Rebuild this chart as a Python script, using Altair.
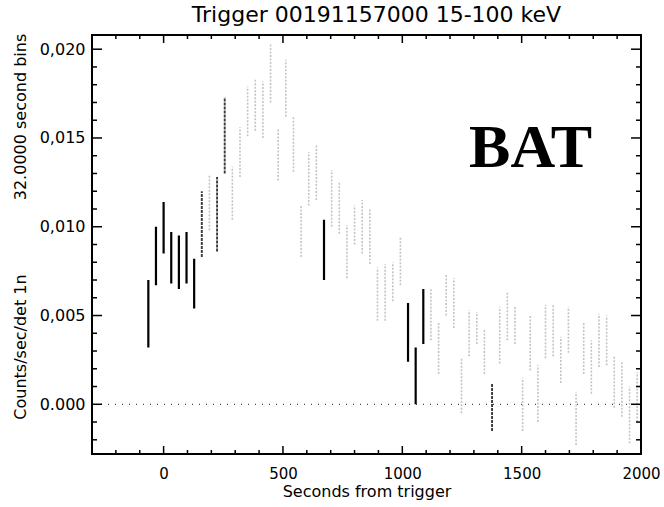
import altair as alt
import pandas as pd

# 32 s bin centres (seconds from trigger)
time_s = [-64, -32, 0, 32, 64, 96, 128, 160, 192, 224, 256, 288, 320, 352, 384, 416,
          448, 480, 512, 544, 576, 608, 640, 672, 704, 736, 768, 800, 832, 864, 896,
          928, 960, 992, 1024, 1056, 1088, 1120, 1152, 1184, 1216, 1248, 1280, 1312,
          1344, 1376, 1408, 1440, 1472, 1504, 1536, 1568, 1600, 1632, 1664, 1696, 1728,
          1760, 1792, 1824, 1856, 1888, 1920, 1952, 1984]
rate_hi = [0.0070, 0.0100, 0.0114, 0.0097, 0.0095, 0.0097, 0.0082, 0.0120, 0.0129, 0.0128,
           0.0173, 0.0134, 0.0156, 0.0179, 0.0183, 0.0182, 0.0203, 0.0155, 0.0194, 0.0162,
           0.0112, 0.0142, 0.0146, 0.0104, 0.0132, 0.0125, 0.0101, 0.0112, 0.0115, 0.0110,
           0.0077, 0.0079, 0.0080, 0.0094, 0.0057, 0.0032, 0.0065, 0.0065, 0.0046, 0.0073,
           0.0071, 0.0026, 0.0053, 0.0052, 0.0042, 0.0012, 0.0055, 0.0063, 0.0055, 0.0015,
           0.0050, 0.0022, 0.0056, 0.0056, 0.0038, 0.0055, 0.0007, 0.0046, 0.0036, 0.0051,
           0.0050, 0.0027, 0.0024, 0.0010, 0.0018]
rate_lo = [0.0032, 0.0067, 0.0085, 0.0068, 0.0065, 0.0068, 0.0054, 0.0083, 0.0098, 0.0086,
           0.0130, 0.0104, 0.0128, 0.0151, 0.0154, 0.0150, 0.0170, 0.0126, 0.0162, 0.0131,
           0.0083, 0.0112, 0.0115, 0.0070, 0.0100, 0.0096, 0.0071, 0.0090, 0.0085, 0.0079,
           0.0047, 0.0047, 0.0058, 0.0067, 0.0024, 0.0000, 0.0034, 0.0036, 0.0017, 0.0050,
           0.0043, -0.0005, 0.0027, 0.0034, 0.0017, -0.0015, 0.0023, 0.0036, 0.0034, -0.0015,
           0.0019, -0.0010, 0.0026, 0.0027, 0.0012, 0.0029, -0.0023, 0.0017, 0.0006, 0.0021,
           0.0022, -0.0002, -0.0007, -0.0022, -0.0010]
# print quality of each bar in the scanned plot
tone = (["solid"] * 7 + ["medium"] + ["faint"] + ["medium"] * 2 + ["faint"] * 12 +
        ["solid"] + ["faint"] * 10 + ["solid"] * 3 + ["faint"] * 8 + ["medium"] +
        ["faint"] * 19)

x_major = [0, 500, 1000, 1500]
x_minor = [v for v in range(-200, 2000, 100) if v % 500 != 0]
y_major = [0.0, 0.005, 0.010, 0.015, 0.020]
y_minor = [round(-0.002 + 0.001 * i, 3) for i in range(23) if (i - 2) % 5 != 0]

W, H = 549, 419
FONT = "DejaVu Sans"

df = pd.DataFrame({"t": time_s, "hi": rate_hi, "lo": rate_lo, "tone": tone})

xscale = alt.Scale(domain=[-300, 2000], nice=False, zero=False)
yscale = alt.Scale(domain=[-0.0028, 0.0208], nice=False, zero=False)

xax = alt.Axis(values=[0, 500, 1000, 1500, 2000], format="d", ticks=False, domain=False,
               grid=False, labelFont=FONT, labelFontSize=15, labelColor="black",
               labelPadding=12, labelFlush=False, labelOverlap=False,
               title="Seconds from trigger", titleFont=FONT,
               titleFontSize=16, titleFontWeight="normal", titleColor="black",
               titlePadding=2)
yax = alt.Axis(values=y_major, ticks=False, domain=False, grid=False,
               labelExpr="datum.value == 0 ? '0.000' : replace(format(datum.value, '.3f'), '.', ',')",
               labelFont=FONT, labelFontSize=16, labelColor="black", labelPadding=7,
               labelFlush=False, labelOverlap=False, title="")


def X(field):
    return alt.X(field, scale=xscale, axis=xax)


def Y(field):
    return alt.Y(field, scale=yscale, axis=yax)


bars = alt.Chart(df).mark_rule().encode(
    x=X("t:Q"),
    y=Y("lo:Q"),
    y2="hi:Q",
    color=alt.Color("tone:N", scale=alt.Scale(domain=["solid", "medium", "faint"],
                                               range=["#000000", "#3a3a3a", "#c4c4c4"]),
                    legend=None),
    strokeWidth=alt.StrokeWidth("tone:N", scale=alt.Scale(domain=["solid", "medium", "faint"],
                                                          range=[2.2, 1.6, 1.2]),
                                legend=None),
    strokeDash=alt.StrokeDash("tone:N", scale=alt.Scale(domain=["solid", "medium", "faint"],
                                                        range=[[1, 0], [3, 1], [2, 1.5]]),
                              legend=None),
)

zero = alt.Chart(pd.DataFrame({"z": [0.0]})).mark_rule(
    color="#444444", strokeDash=[1, 6], strokeWidth=1.2
).encode(y=Y("z:Q"))


def xticks(vals, length):
    d = pd.DataFrame({"t": vals})
    b = alt.Chart(d).mark_rule(color="black", strokeWidth=1.5).encode(
        x=X("t:Q"), y=alt.value(H), y2=alt.value(H - length))
    t = alt.Chart(d).mark_rule(color="black", strokeWidth=1.5).encode(
        x=X("t:Q"), y=alt.value(0), y2=alt.value(length))
    return b + t


def yticks(vals, length):
    d = pd.DataFrame({"lo": vals})
    l = alt.Chart(d).mark_rule(color="black", strokeWidth=1.5).encode(
        y=Y("lo:Q"), x=alt.value(0), x2=alt.value(length))
    r = alt.Chart(d).mark_rule(color="black", strokeWidth=1.5).encode(
        y=Y("lo:Q"), x=alt.value(W), x2=alt.value(W - length))
    return l + r


ylab1 = alt.Chart(pd.DataFrame({"s": ["32.0000 second bins"]})).mark_text(
    angle=270, font=FONT, fontSize=16, color="black", align="center", baseline="middle"
).encode(text="s:N", x=alt.value(-71), y=alt.value(82))
ylab2 = alt.Chart(pd.DataFrame({"s": ["Counts/sec/det 1n"]})).mark_text(
    angle=270, font=FONT, fontSize=16, color="black", align="center", baseline="middle"
).encode(text="s:N", x=alt.value(-71), y=alt.value(312))

bat = alt.Chart(pd.DataFrame({"s": ["BAT"]})).mark_text(
    font="Liberation Serif", fontWeight="bold", fontSize=62, color="black",
    align="right", baseline="alphabetic"
).encode(text="s:N", x=alt.value(500), y=alt.value(132))

chart = alt.layer(
    bars, zero, xticks(x_major, 8), xticks(x_minor, 4), yticks(y_major, 10), yticks(y_minor, 5),
    ylab1, ylab2, bat
).properties(
    width=W, height=H,
    title=alt.TitleParams("Trigger 00191157000 15-100 keV", font=FONT, fontSize=22,
                          fontWeight="normal", color="black", anchor="middle", offset=7, dx=10),
    autosize=alt.AutoSizeParams(type="none"),
    padding={"left": 92, "top": 35, "right": 23, "bottom": 53},
    background="white",
).configure_view(stroke="black", strokeWidth=2)

chart.save("out.html", embed_options={"renderer": "svg", "actions": False})
